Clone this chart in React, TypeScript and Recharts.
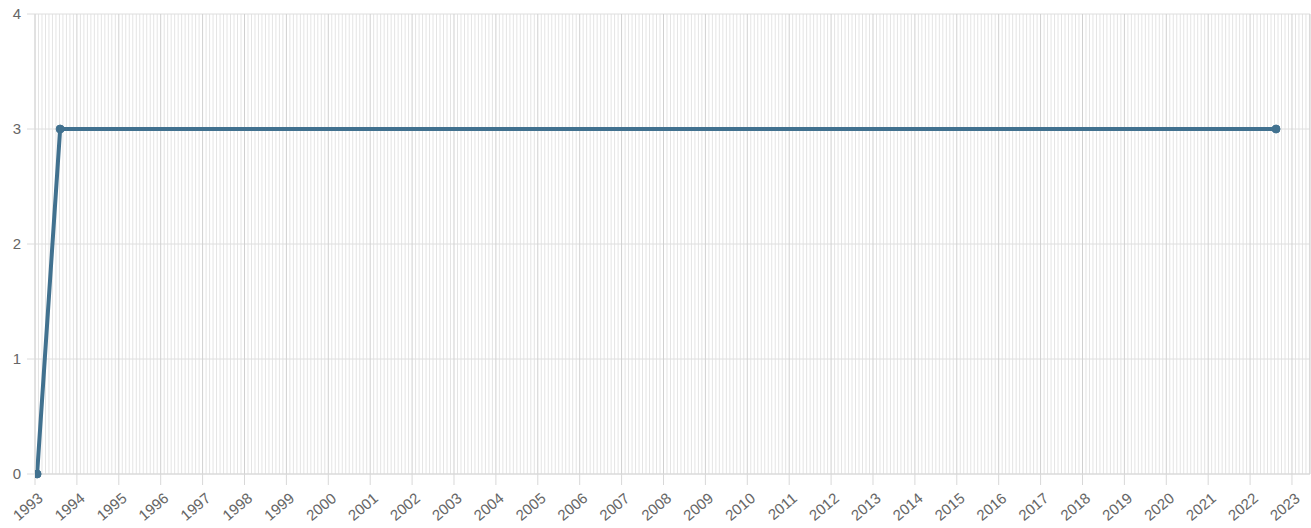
import { LineChart, Line, XAxis, YAxis, CartesianGrid } from 'recharts';

// decimal years
const pointDates = [1993.05, 1993.6, 2022.62];
const pointValues = [0, 3, 3];
const yearTicks = Array.from({ length: 31 }, (_, i) => 1993 + i);
const yTicks = [0, 1, 2, 3, 4];

const X_MIN = 1993;
const X_MAX = 2023.43;

const LINE_COLOR = '#41718f';
const TEXT_COLOR = '#666';
const FONT = 'Liberation Sans, Arial, sans-serif';

// one light grid line per month
const monthTicks: number[] = [];
for (let y = 1993; y <= 2023; y++) {
  for (let m = 1; m < 12; m++) {
    const v = y + m / 12;
    if (v < X_MAX) monthTicks.push(v);
  }
}

const data = pointDates.map((d, i) => ({ date: d, value: pointValues[i] }));

function renderYearTick(props: any) {
  const { x, y, payload } = props;
  const ax = x + 9;
  const ay = y + 11;
  return (
    <text
      key={payload.value}
      x={ax}
      y={ay}
      transform={`rotate(-40, ${ax}, ${ay})`}
      textAnchor="end"
      fill={TEXT_COLOR}
      fontSize={15}
      fontFamily={FONT}
    >
      {payload.value}
    </text>
  );
}

function monthLines({ xAxis, offset }: any) {
  return monthTicks.map((v) =>
    xAxis && typeof xAxis.scale === 'function'
      ? xAxis.scale(v)
      : offset.left + ((v - X_MIN) / (X_MAX - X_MIN)) * offset.width
  );
}

export default function App() {
  return (
    <div style={{ position: 'absolute', left: 0, top: 0, width: 1311, height: 528, background: '#fff' }}>
      <LineChart width={1311} height={528} data={data} margin={{ top: 14, right: 1, left: 0, bottom: 0 }}>
        <CartesianGrid horizontal={false} verticalCoordinatesGenerator={monthLines} stroke="#e4e4e4" strokeWidth={1} />
        <CartesianGrid vertical={false} stroke="#dedede" strokeWidth={1} />
        <CartesianGrid horizontal={false} stroke="#d0d0d0" strokeWidth={1} />
        <XAxis
          dataKey="date"
          type="number"
          domain={[X_MIN, X_MAX]}
          ticks={yearTicks}
          interval={0}
          height={54}
          tickSize={11}
          tickMargin={4}
          stroke="#d8d8d8"
          tick={renderYearTick}
          allowDataOverflow
        />
        <YAxis
          domain={[0, 4]}
          ticks={yTicks}
          width={35}
          tickSize={8}
          tickMargin={6}
          stroke="#dcdcdc"
          tick={{ fill: TEXT_COLOR, fontSize: 15, fontFamily: FONT }}
        />
        <Line
          dataKey="value"
          type="linear"
          stroke={LINE_COLOR}
          strokeWidth={4}
          dot={{ r: 4, fill: LINE_COLOR, stroke: LINE_COLOR, strokeWidth: 1 }}
          isAnimationActive={false}
        />
      </LineChart>
    </div>
  );
}
